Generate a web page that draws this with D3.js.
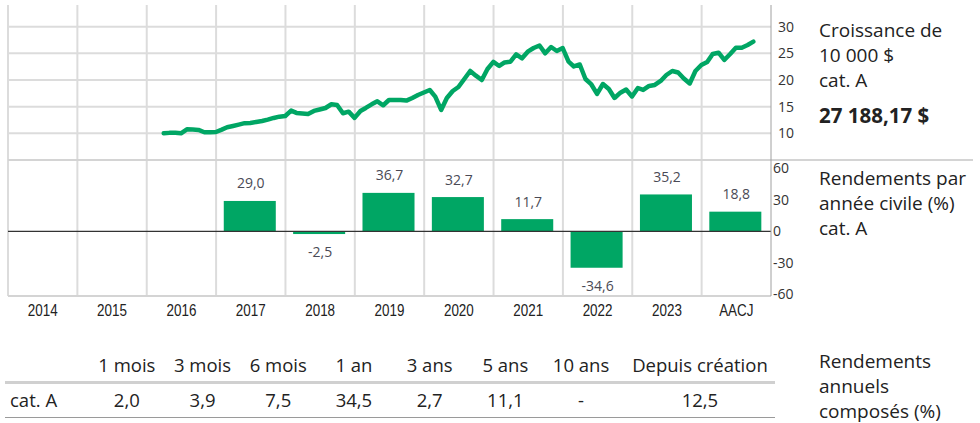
<!DOCTYPE html>
<html>
<head>
<meta charset="utf-8">
<script src="https://cdn.jsdelivr.net/npm/d3@7"></script>
<style>
  body { margin: 0; background: #fff; }
  text { font-family: "Open Sans", "Noto Sans", sans-serif; }
</style>
</head>
<body>
<div id="my_dataviz"></div>
<script>

// ---- data ----
var years = ["2014", "2015", "2016", "2017", "2018", "2019", "2020", "2021", "2022", "2023", "AACJ"];
var annualReturns = [null, null, null, 29.0, -2.5, 36.7, 32.7, 11.7, -34.6, 35.2, 18.8];

// growth of 10 000 $ (thousands), month ends from March 2016
var growthValues = [
    10.00, 10.08, 10.10, 10.00, 10.75, 10.70, 10.63, 10.20, 10.20, 10.25,
    10.70, 11.14, 11.38, 11.63, 11.90, 11.95, 12.13, 12.30, 12.56, 12.88,
    13.12, 13.25, 14.25, 13.82, 13.72, 13.63, 14.20, 14.47, 14.75, 15.45,
    15.32, 13.76, 14.06, 12.90, 14.19, 14.76, 15.43, 16.00, 15.26, 16.25,
    16.25, 16.25, 16.14, 16.63, 17.19, 17.66, 18.13, 16.87, 14.38, 16.63,
    17.94, 18.69, 20.19, 21.69, 20.81, 20.00, 22.07, 23.40, 22.63, 23.29,
    23.44, 24.79, 24.07, 25.31, 26.00, 26.47, 25.01, 26.19, 25.44, 26.00,
    23.44, 22.54, 22.91, 20.19, 19.16, 17.38, 19.25, 18.32, 16.63, 17.62,
    18.22, 16.91, 18.50, 18.13, 18.88, 19.07, 19.82, 20.94, 21.69, 21.41,
    20.29, 19.35, 21.69, 22.82, 23.38, 24.88, 25.12, 23.76, 24.88, 26.06,
    26.06, 26.57, 27.19
];
var finalValue = 27188.17;
var growthTicks = [10, 15, 20, 25, 30];
var returnTicks = [-60, -30, 0, 30, 60];

var periods = ["1 mois", "3 mois", "6 mois", "1 an", "3 ans", "5 ans", "10 ans", "Depuis création"];
var periodReturns = [2.0, 3.9, 7.5, 34.5, 2.7, 11.1, null, 12.5];

// french number format
var fr = d3.formatLocale({ decimal: ",", thousands: "\u00a0", grouping: [3], currency: ["", " $"], minus: "-" });
var fmt1 = fr.format(".1f");
var fmtMoney = fr.format(",.2f");

var green = "#00a664";
var grid = "#dcdcdc";

var width = 980, height = 423;
var left = 8, right = 771;
var topLine = 5, divider = 160, bottomBars = 296;

var svg = d3.select("#my_dataviz")
    .append("svg")
    .attr("width", width)
    .attr("height", height);

// ---- growth chart ----
var xTime = d3.scaleTime()
    .domain([new Date(2014, 0, 1), new Date(2025, 0, 1)])
    .range([left, right]);

var yGrowth = d3.scaleLinear()
    .domain([10, 30])
    .range([133.3, 26.7]);

var xCol = d3.scaleBand()
    .domain(years)
    .range([left, right]);

// vertical grid lines (both charts)
svg.append("g")
    .selectAll("line")
    .data(years)
    .enter()
    .append("line")
    .attr("x1", function (d) { return xCol(d); })
    .attr("x2", function (d) { return xCol(d); })
    .attr("y1", topLine)
    .attr("y2", bottomBars)
    .attr("stroke", grid)
    .attr("stroke-width", 2);

// horizontal grid lines
svg.append("g")
    .selectAll("line")
    .data(growthTicks)
    .enter()
    .append("line")
    .attr("x1", left)
    .attr("x2", right)
    .attr("y1", function (d) { return yGrowth(d); })
    .attr("y2", function (d) { return yGrowth(d); })
    .attr("stroke", grid)
    .attr("stroke-width", 2);

// right axis growth
var axisG = svg.append("g")
    .attr("transform", "translate(" + right + ",0)")
    .call(d3.axisRight(yGrowth).tickValues(growthTicks).tickSize(0).tickPadding(7));
axisG.select(".domain").remove();
axisG.selectAll("text")
    .style("font-family", "'Open Sans', sans-serif")
    .style("font-size", "14px")
    .attr("fill", "#333");

// month ends, March 2016 onwards
var growthData = growthValues.map(function (v, i) {
    return { date: new Date(2016, 3 + i, 0), value: v };
});

svg.append("path")
    .datum(growthData)
    .attr("fill", "none")
    .attr("stroke", green)
    .attr("stroke-width", 4.5)
    .attr("stroke-linejoin", "round")
    .attr("stroke-linecap", "round")
    .attr("d", d3.line()
        .x(function (d) { return xTime(d.date); })
        .y(function (d) { return yGrowth(d.value); }));

// ---- bar chart ----
var yRet = d3.scaleLinear()
    .domain([-61.5, 68])
    .range([bottomBars, divider]);

var xBar = d3.scaleBand()
    .domain(years)
    .range([left, right])
    .paddingInner(0.25)
    .paddingOuter(0.125);

var barData = years.map(function (y, i) { return { year: y, value: annualReturns[i] }; })
    .filter(function (d) { return d.value !== null; });

svg.append("g")
    .selectAll("rect")
    .data(barData)
    .enter()
    .append("rect")
    .attr("x", function (d) { return xBar(d.year) - 1; })
    .attr("width", xBar.bandwidth())
    .attr("y", function (d) { return yRet(Math.max(0, d.value)); })
    .attr("height", function (d) { return Math.abs(yRet(d.value) - yRet(0)); })
    .attr("fill", green);

svg.append("g")
    .selectAll("text")
    .data(barData)
    .enter()
    .append("text")
    .attr("x", function (d) { return xBar(d.year) + xBar.bandwidth() / 2; })
    .attr("y", function (d) { return d.value >= 0 ? yRet(d.value) - 12.5 : yRet(d.value) + 23; })
    .attr("text-anchor", "middle")
    .style("font-size", "14px")
    .attr("fill", "#4a4a55")
    .text(function (d) { return fmt1(d.value); });

// zero line
svg.append("line")
    .attr("x1", left)
    .attr("x2", right)
    .attr("y1", yRet(0))
    .attr("y2", yRet(0))
    .attr("stroke", "#333")
    .attr("stroke-width", 1.2);

// divider + bottom border
svg.append("line")
    .attr("x1", left).attr("x2", 973)
    .attr("y1", divider).attr("y2", divider)
    .attr("stroke", "#d4d4d4").attr("stroke-width", 2);
svg.append("line")
    .attr("x1", left).attr("x2", right)
    .attr("y1", bottomBars).attr("y2", bottomBars)
    .attr("stroke", "#d4d4d4").attr("stroke-width", 2);

// right axis line
svg.append("line")
    .attr("x1", right).attr("x2", right)
    .attr("y1", topLine).attr("y2", bottomBars)
    .attr("stroke", "#a0a0a0").attr("stroke-width", 1);

var axisR = svg.append("g")
    .attr("transform", "translate(" + right + ",0)")
    .call(d3.axisRight(yRet).tickValues(returnTicks).tickSize(0).tickPadding(2)
        .tickFormat(function (d) { return String(d); }));
axisR.select(".domain").remove();
axisR.selectAll("text")
    .style("font-family", "'Open Sans', sans-serif")
    .style("font-size", "14px")
    .attr("fill", "#333");

// year labels (narrow look)
svg.append("g")
    .selectAll("text")
    .data(years)
    .enter()
    .append("text")
    .attr("transform", function (d) {
        return "translate(" + (xCol(d) + xCol.bandwidth() / 2) + ",315.5) scale(0.84,1)";
    })
    .attr("text-anchor", "middle")
    .style("font-family", "'Liberation Sans', Arial, sans-serif")
    .style("font-size", "16px")
    .attr("fill", "#222")
    .text(function (d) { return d; });

// ---- right side titles ----
function sideText(lines, y0, dy, size, bold) {
    lines.forEach(function (t, i) {
        svg.append("text")
            .attr("x", 819)
            .attr("y", y0 + i * dy)
            .style("font-size", size + "px")
            .style("font-weight", bold ? "bold" : "normal")
            .attr("fill", "#222")
            .text(t);
    });
}
sideText(["Croissance de", "10 000 $", "cat. A"], 36.5, 25.3, 19, false);
sideText([fmtMoney(finalValue) + " $"], 123, 0, 20.5, true);
sideText(["Rendements par", "année civile (%)", "cat. A"], 185, 25, 19, false);
sideText(["Rendements", "annuels", "composés (%)"], 368, 25, 19, false);

// ---- table ----
// seven equal columns, last one wider
var colW = 75.7, tabStart = 89, tabEnd = 781;
function colCenter(i) {
    return i < periods.length - 1 ? tabStart + colW * (i + 0.5) : (tabStart + colW * (periods.length - 1) + tabEnd) / 2;
}

svg.append("g")
    .selectAll("text")
    .data(periods)
    .enter()
    .append("text")
    .attr("x", function (d, i) { return colCenter(i); })
    .attr("y", 371.5)
    .attr("text-anchor", "middle")
    .style("font-size", "18.5px")
    .attr("fill", "#222")
    .text(function (d) { return d; });

svg.append("text")
    .attr("x", 10)
    .attr("y", 406.5)
    .style("font-size", "18.5px")
    .attr("fill", "#222")
    .text("cat. A");

svg.append("g")
    .selectAll("text")
    .data(periodReturns)
    .enter()
    .append("text")
    .attr("x", function (d, i) { return colCenter(i); })
    .attr("y", 406.5)
    .attr("text-anchor", "middle")
    .style("font-size", "18.5px")
    .attr("fill", "#222")
    .text(function (d) { return d === null ? "-" : fmt1(d); });

svg.append("line")
    .attr("x1", 5).attr("x2", 775)
    .attr("y1", 382.5).attr("y2", 382.5)
    .attr("stroke", "#d0d0d0").attr("stroke-width", 3);
svg.append("line")
    .attr("x1", 5).attr("x2", 775)
    .attr("y1", 417.5).attr("y2", 417.5)
    .attr("stroke", "#9a9a9a").attr("stroke-width", 1.2);

</script>
</body>
</html>
